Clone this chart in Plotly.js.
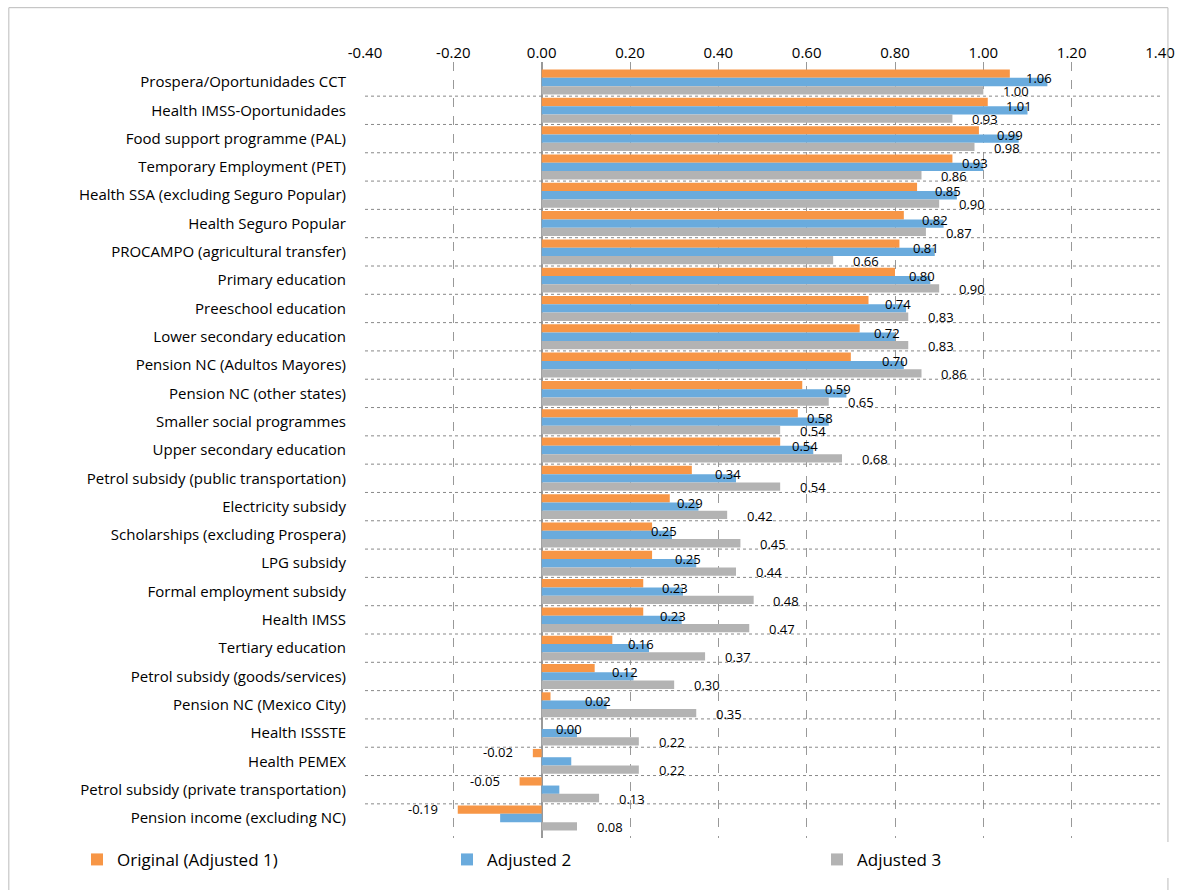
<!DOCTYPE html>
<html>
<head>
<meta charset="utf-8">
<script src="https://cdn.plot.ly/plotly-3.0.1.min.js"></script>
<style>body{margin:0;background:#fff;} #chart{width:1187px;height:890px;}</style>
</head>
<body>
<div id="chart"></div>
<script>
// programme categories, top to bottom
const categories = [
    'Prospera/Oportunidades CCT', 'Health IMSS-Oportunidades', 'Food support programme (PAL)',
    'Temporary Employment (PET)', 'Health SSA (excluding Seguro Popular)', 'Health Seguro Popular',
    'PROCAMPO (agricultural transfer)', 'Primary education', 'Preeschool education',
    'Lower secondary education', 'Pension NC (Adultos Mayores)', 'Pension NC (other states)',
    'Smaller social programmes', 'Upper secondary education', 'Petrol subsidy (public transportation)',
    'Electricity subsidy', 'Scholarships (excluding Prospera)', 'LPG subsidy',
    'Formal employment subsidy', 'Health IMSS', 'Tertiary education',
    'Petrol subsidy (goods/services)', 'Pension NC (Mexico City)', 'Health ISSSTE',
    'Health PEMEX', 'Petrol subsidy (private transportation)', 'Pension income (excluding NC)'
];
const original = [1.06, 1.01, 0.99, 0.93, 0.85, 0.82, 0.81, 0.80, 0.74, 0.72, 0.70, 0.59, 0.58, 0.54,
    0.34, 0.29, 0.25, 0.25, 0.23, 0.23, 0.16, 0.12, 0.02, 0.00, -0.02, -0.05, -0.19];
const adjusted2 = [1.145, 1.10, 1.08, 1.00, 0.94, 0.91, 0.89, 0.88, 0.825, 0.80, 0.82, 0.69, 0.65, 0.615,
    0.44, 0.355, 0.295, 0.35, 0.32, 0.317, 0.243, 0.208, 0.147, 0.08, 0.067, 0.04, -0.094];
const adjusted3 = [1.00, 0.93, 0.98, 0.86, 0.90, 0.87, 0.66, 0.90, 0.83, 0.83, 0.86, 0.65, 0.54, 0.68,
    0.54, 0.42, 0.45, 0.44, 0.48, 0.47, 0.37, 0.30, 0.35, 0.22, 0.22, 0.13, 0.08];
const tickVals = [-0.4, -0.2, 0, 0.2, 0.4, 0.6, 0.8, 1.0, 1.2, 1.4];

const fmt = v => v.toFixed(2);
const labelFont = { family: 'Open Sans, Liberation Sans, sans-serif', size: 13, color: '#000' };

const traces = [
    { type: 'bar', orientation: 'h', name: 'Original (Adjusted 1)', y: categories, x: original,
      marker: { color: '#F79646' } },
    { type: 'bar', orientation: 'h', name: 'Adjusted 2', y: categories, x: adjusted2,
      marker: { color: '#6AABDD' } },
    { type: 'bar', orientation: 'h', name: 'Adjusted 3', y: categories, x: adjusted3,
      marker: { color: '#B3B3B3' } }
];

// labels: orange values printed by the blue bar, grey values below the grey bar
const annotations = [];
categories.forEach((c, i) => {
    const o = original[i];
    if (o < 0) {
        annotations.push({ x: o - 0.04, y: c, xanchor: 'right', yanchor: 'middle', yshift: 9,
            text: fmt(o), showarrow: false, font: labelFont });
    } else {
        annotations.push({ x: Math.max(o, adjusted2[i]) + 0.015, y: c, xanchor: 'right', yanchor: 'middle',
            yshift: 4, text: fmt(o), showarrow: false, font: labelFont });
    }
    annotations.push({ x: adjusted3[i] + 0.04, y: c, xanchor: 'left', yanchor: 'middle', yshift: -9,
        text: fmt(adjusted3[i]), showarrow: false, font: labelFont });
});

// dotted separators between categories
const shapes = categories.slice(1).map((c, i) => ({
    type: 'line', xref: 'paper', x0: 0, x1: 1, yref: 'y', y0: i + 0.5, y1: i + 0.5,
    line: { color: '#888', width: 1, dash: 'dot' }
}));
shapes.push({
    type: 'rect', xref: 'paper', yref: 'paper', x0: -0.448, x1: 1.01, y0: -0.095, y1: 1.07,
    line: { color: '#BBB', width: 1 }
});

const layout = {
    width: 1187, height: 890,
    margin: { l: 365, r: 27, t: 62, b: 50 },
    barmode: 'group', bargap: 0.12, bargroupgap: 0,
    font: { family: 'Open Sans, Liberation Sans, sans-serif', color: '#000' },
    xaxis: {
        side: 'top', range: [-0.4, 1.4], tickvals: tickVals, ticktext: tickVals.map(fmt),
        showgrid: true, gridcolor: '#999', griddash: 'dash', gridwidth: 1,
        zeroline: true, zerolinecolor: '#999', zerolinewidth: 1.5,
        tickfont: { size: 15 }, ticks: '', fixedrange: true
    },
    yaxis: {
        autorange: 'reversed', tickfont: { size: 15 }, ticks: '',
        ticklabelstandoff: 18, showgrid: false, fixedrange: true
    },
    annotations: annotations,
    shapes: shapes,
    showlegend: true,
    legend: {
        orientation: 'h', x: -0.2, xanchor: 'left', y: -0.005, yanchor: 'top', traceorder: 'normal',
        font: { size: 17 }, entrywidth: 325, itemsizing: 'constant'
    },
    plot_bgcolor: '#fff', paper_bgcolor: '#fff'
};

Plotly.newPlot('chart', traces, layout, { displayModeBar: false });
</script>
</body>
</html>
